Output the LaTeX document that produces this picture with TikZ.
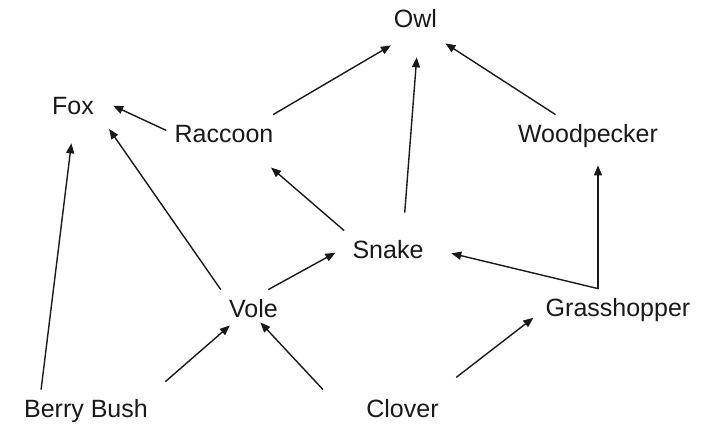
\documentclass[tikz,border=0pt]{standalone}
\usepackage{xcolor}
\usepackage{fontspec}
\setmainfont{Liberation Sans}
\usetikzlibrary{arrows.meta}

\begin{document}
\begin{tikzpicture}[x=0.5pt,y=-0.5pt]
        \tikzset{animal/.style={rectangle,
                    inner xsep=4pt, inner ysep=5pt,
                    text height=9pt, text depth=2.5pt,
                    anchor=base, text=black!90,
                    font=\fontsize{12.5}{15}\selectfont},
                eats/.style={draw=black!90, line width=0.7pt,
                    -{Triangle[length=5pt,width=4pt]}}}
        \useasboundingbox (0,0) rectangle (708,442);
        \node[animal] (owl) at (415.5,28) {Owl};
        \node[animal] (fox) at (73,115) {Fox};
        \node[animal] (rac) at (224,143) {Raccoon};
        \node[animal] (woo) at (588,143) {Woodpecker};
        \node[animal] (sna) at (388,259) {Snake};
        \node[animal] (vol) at (253.5,318) {Vole};
        \node[animal] (gra) at (618,317) {Grasshopper};
        \node[animal] (ber) at (86,418) {Berry Bush};
        \node[animal] (clo) at (402.5,418) {Clover};
        \coordinate (fork) at ([xshift=-10pt]gra.north);
        \draw[eats, shorten >=2pt] (rac.24) -- (owl.-134);
        \draw[eats, shorten <=9pt, shorten >=7pt] (sna.55) -- (owl.-84);
        \draw[eats] (woo.146) -- (owl.south east);
        \draw[eats, shorten >=6pt] (rac.174) -- (fox.15);
        \draw[eats, shorten >=6pt] (vol.north west) -- (fox.-20);
        \draw[eats, shorten >=6.5pt] (ber.154) -- (fox.south);
        \draw[eats, shorten >=7pt] (sna.north west) -- (rac.-31);
        \draw[eats, shorten >=5pt] (vol.56) -- (sna.174);
        \draw[eats, shorten >=10pt] (fork) -- (sna.5);
        \draw[eats, shorten >=3.5pt] (fork) -- (fork |- woo.south);
        \draw[eats, shorten <=6pt, shorten >=-6pt] (ber.north east) -- (vol.south west);
        \draw[eats, shorten >=-7.5pt] ([xshift=-17.5pt]clo.north west) -- (vol.-52);
        \draw[eats, shorten <=10pt, shorten >=2.5pt] (clo.30) -- (gra.-177);
    \end{tikzpicture}
\end{document}
